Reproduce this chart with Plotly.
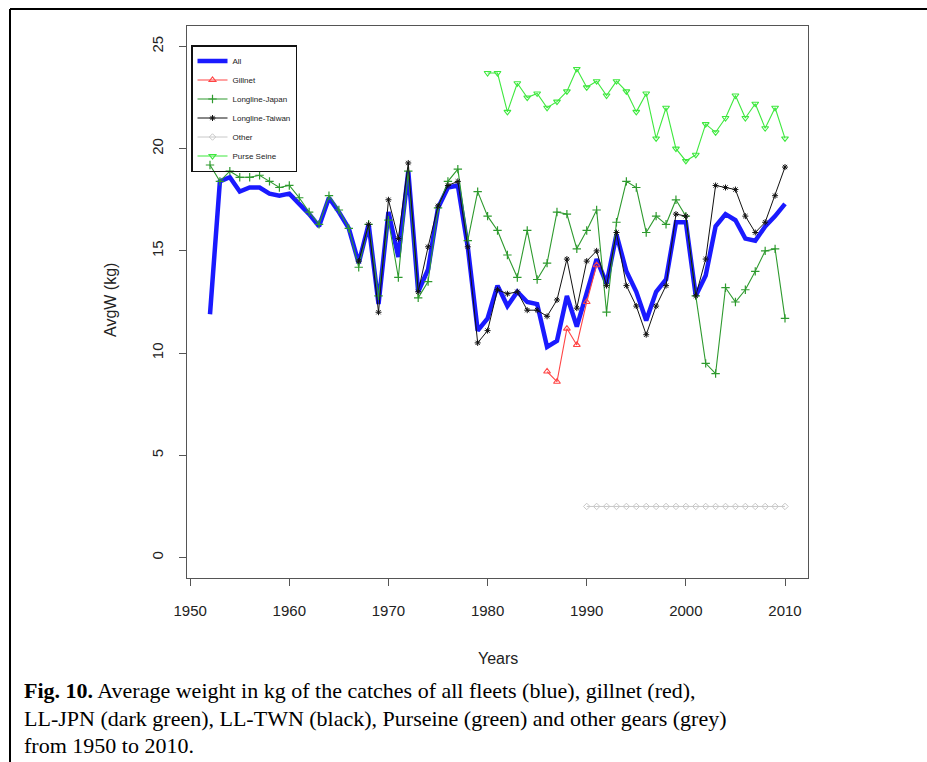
import plotly.graph_objects as go

# ---------------- data ----------------
years_all = list(range(1952, 2011))
all_vals = [11.9, 18.4, 18.6, 17.9, 18.1, 18.1, 17.8, 17.7, 17.8, 17.3,
            16.8, 16.2, 17.6, 16.9, 16.1, 14.4, 16.3, 12.4, 16.9, 14.7,
            18.9, 13.0, 14.1, 17.1, 18.1, 18.2, 15.2, 11.1, 11.7, 13.3,
            12.3, 13.0, 12.5, 12.4, 10.3, 10.6, 12.8, 11.3, 12.9, 14.6,
            13.4, 15.8, 14.0, 13.0, 11.6, 13.0, 13.6, 16.4, 16.4, 12.8,
            13.8, 16.2, 16.8, 16.5, 15.6, 15.5, 16.2, 16.7, 17.3]

years_gill = list(range(1986, 1992))
gill_vals = [9.1, 8.6, 11.2, 10.4, 12.5, 14.3]

years_jpn = list(range(1952, 2011))
jpn_vals = [19.2, 18.4, 18.9, 18.6, 18.6, 18.7, 18.4, 18.1, 18.2, 17.6,
            16.9, 16.3, 17.7, 17.0, 16.1, 14.2, 16.3, 12.8, 16.5, 13.7,
            18.9, 12.7, 13.5, 17.1, 18.4, 19.0, 15.5, 17.9, 16.7, 16.0,
            14.8, 13.7, 16.0, 13.6, 14.4, 16.9, 16.8, 15.1, 16.0, 17.0,
            12.0, 16.4, 18.4, 18.1, 15.9, 16.7, 16.3, 17.5, 16.7, 12.8,
            9.5, 9.0, 13.2, 12.5, 13.1, 14.0, 15.0, 15.1, 11.7]

years_twn = list(range(1967, 2011))
twn_vals = [14.5, 16.3, 12.0, 17.5, 15.6, 19.3, 13.0, 15.2, 17.2, 18.2,
            18.4, 15.2, 10.5, 11.1, 13.1, 12.9, 13.0, 12.1, 12.1, 11.8,
            12.6, 14.6, 12.2, 14.5, 15.0, 13.3, 15.9, 13.3, 12.3, 10.9,
            12.3, 13.3, 16.8, 16.7, 12.8, 14.6, 18.2, 18.1, 18.0, 16.7,
            15.9, 16.4, 17.7, 19.1]

years_other = list(range(1990, 2011))
other_vals = [2.5] * 21

years_ps = list(range(1980, 2011))
ps_vals = [23.7, 23.7, 21.8, 23.2, 22.5, 22.7, 22.0, 22.3, 22.8, 23.9,
           23.0, 23.3, 22.6, 23.3, 22.8, 21.8, 22.7, 20.5, 22.0, 20.0,
           19.4, 19.7, 21.2, 20.8, 21.5, 22.6, 21.5, 22.2, 21.0, 22.0, 20.5]

x_ticks = [1950, 1960, 1970, 1980, 1990, 2000, 2010]
y_ticks = [0, 5, 10, 15, 20, 25]

caption_lines = [
    "<b>Fig. 10.</b> Average weight in kg of the catches of all fleets (blue), gillnet (red),",
    "LL-JPN (dark green), LL-TWN (black), Purseine (green) and other gears (grey)",
    "from 1950 to 2010.",
]

# ---------------- figure ----------------
W, H = 927, 762
L, R, T, B = 187, 808, 26, 578  # plot area in pixels


def px_x(p):
    return (p - L) / (R - L)


def px_y(p):
    return (B - p) / (B - T)


fig = go.Figure()
fig.add_trace(go.Scatter(x=years_all, y=all_vals, name="All", mode="lines",
                         line=dict(color="#1a1aff", width=4.5)))
fig.add_trace(go.Scatter(x=years_gill, y=gill_vals, name="Gillnet", mode="lines+markers",
                         line=dict(color="#ff4444", width=1.1),
                         marker=dict(symbol="triangle-up-open", size=6,
                                     color="#ff4444", line=dict(width=1.1))))
fig.add_trace(go.Scatter(x=years_jpn, y=jpn_vals, name="Longline-Japan", mode="lines+markers",
                         line=dict(color="#2e9a2e", width=1.1),
                         marker=dict(symbol="cross-thin-open", size=6,
                                     color="#2e9a2e", line=dict(width=1.2))))
fig.add_trace(go.Scatter(x=years_twn, y=twn_vals, name="Longline-Taiwan", mode="lines+markers",
                         line=dict(color="#111111", width=1.0),
                         marker=dict(symbol="asterisk-open", size=5,
                                     color="#111111", line=dict(width=1))))
fig.add_trace(go.Scatter(x=years_other, y=other_vals, name="Other", mode="lines+markers",
                         line=dict(color="#c8c8c8", width=1.0),
                         marker=dict(symbol="diamond-open", size=5,
                                     color="#c8c8c8", line=dict(width=1.0))))
fig.add_trace(go.Scatter(x=years_ps, y=ps_vals, name="Purse Seine", mode="lines+markers",
                         line=dict(color="#3ee83e", width=1.1),
                         marker=dict(symbol="triangle-down-open", size=6,
                                     color="#3ee83e", line=dict(width=1.1))))

axis_common = dict(showgrid=False, zeroline=False, showline=True, mirror=True,
                   linecolor="#555555", linewidth=1, ticks="outside", ticklen=7,
                   tickcolor="#555555", tickwidth=1,
                   tickfont=dict(family="Liberation Sans, Arial", size=15, color="#222222"))

fig.update_layout(
    width=W, height=H,
    margin=dict(l=L, r=W - R, t=T, b=H - B, pad=0),
    paper_bgcolor="white", plot_bgcolor="white",
    xaxis=dict(range=[1949.68, 2012.32], tickvals=x_ticks, ticklabelstandoff=12, **axis_common),
    yaxis=dict(range=[-1, 26], tickvals=y_ticks, tickangle=-90, ticklabelstandoff=10, **axis_common),
    showlegend=True,
    legend=dict(x=px_x(191), y=px_y(45), xanchor="left", yanchor="top",
                font=dict(family="Liberation Sans, Arial", size=8, color="#222222"),
                bordercolor="#111111", borderwidth=1.5, bgcolor="rgba(255,255,255,0)",
                itemwidth=30, tracegroupgap=0),
)

# axis titles
fig.add_annotation(x=px_x(498), y=px_y(658), xref="paper", yref="paper",
                   xanchor="center", yanchor="middle",
                   text="Years", showarrow=False,
                   font=dict(family="Liberation Sans, Arial", size=16, color="#222222"))
fig.add_annotation(x=px_x(110), y=px_y(300), xref="paper", yref="paper",
                   xanchor="center", yanchor="middle",
                   text="AvgW (kg)", textangle=-90, showarrow=False,
                   font=dict(family="Liberation Sans, Arial", size=16, color="#222222"))

# caption
for line, ypx in zip(caption_lines, [690, 718, 745]):
    fig.add_annotation(x=px_x(22), y=px_y(ypx), xref="paper", yref="paper",
                       xanchor="left", yanchor="middle", text=line, showarrow=False,
                       font=dict(family="Liberation Serif, Times New Roman", size=22,
                                 color="#000000"))

# outer frame (left and top edges)
fig.add_shape(type="line", xref="paper", yref="paper",
              x0=px_x(10), x1=px_x(10), y0=px_y(9), y1=px_y(770),
              line=dict(color="black", width=2))
fig.add_shape(type="line", xref="paper", yref="paper",
              x0=px_x(10), x1=px_x(935), y0=px_y(9), y1=px_y(9),
              line=dict(color="black", width=2))

fig.write_html("out.html")
